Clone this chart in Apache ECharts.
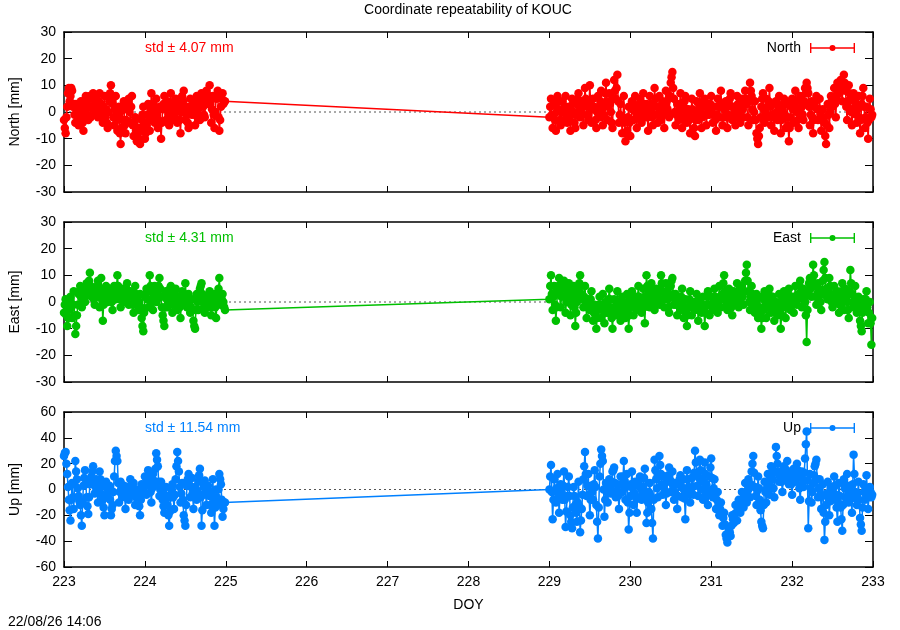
<!DOCTYPE html>
<html>
<head>
<meta charset="utf-8">
<title>Coordinate repeatability of KOUC</title>
<script src="https://cdn.jsdelivr.net/npm/echarts@6/dist/echarts.min.js"></script>
<style>
  html, body { margin: 0; padding: 0; background: #fff; }
  #chart { width: 900px; height: 630px; }
</style>
</head>
<body>
<div id="chart"></div>
<script>
// two observation sessions, one value every 0.01 day
const seg1Start = 223;
const seg2Start = 229;
const step = 0.01;

const northSeg1 = [
  -3, -6, -8, -2, 2, 7, 9, 4, 6, 9, 8, 2, 3, -1, -4, 3, 1, -2, -5, 1,
  -2, 4, 3, -4, -7, -1, 1, 6, 4, -1, -3, 2, 6, -2, 2, 5, 7, 1, -1, 3,
  5, 1, -2, 4, 7, -1, 3, 0, -4, 2, 6, -2, 1, -4, -6, 0, 4, 7, 10, 5,
  3, -2, -5, 1, 6, -3, -7, -1, 2, -8, -12, -6, -3, 1, 4, -5, -8, -3, 1, 3,
  5, 0, -4, 2, 6, -5, -9, -4, -2, -7, -11, -8, -6, -10, -12, -7, -3, -1, 2, -5,
  -10, -8, -5, -1, 3, -3, -7, 1, 7, 3, 0, -2, -4, 1, 5, -1, -6, -3, 2, -4,
  -10, -4, 1, 3, 6, 1, -3, 2, 4, -1, -5, 2, 7, 3, 0, -3, -2, 2, 5, 0,
  -4, 1, 3, -3, -8, 0, 6, 4, 8, 2, -3, -1, 2, -4, -6, 1, 5, 2, -1, 2,
  4, -1, -5, 2, 6, 3, 1, -2, -3, 4, 7, 5, 2, -1, -2, 4, 8, 5, 3, 6,
  10, 3, -4, 1, 6, -1, -6, 0, 5, 6, 8, -2, -7, -3, 2, 5, 7, 3, 4, 4
];
const northSeg2 = [
  -2, 2, 5, -1, -6, -2, 3, -3, -7, 0, 6, 4, 1, -3, -5, 0, 4, 1, -3, 2,
  6, 1, -4, -1, 2, -3, -7, -1, 5, 3, 0, -4, -6, -1, 3, 5, 7, 2, -2, 1,
  4, -1, -5, 3, 9, 5, 2, -1, -3, 4, 10, 3, -4, 1, 5, 2, 1, -3, -6, 0,
  6, 2, -2, 4, 8, 1, -5, -1, 3, 7, 11, 4, -3, 2, 7, 3, 0, -4, -6, 5,
  12, 8, 5, 9, 14, 4, -4, -1, 3, -3, -8, -2, 6, -4, -11, -8, -7, -2, 2, -4,
  -9, -3, 4, 1, -3, 2, 6, 0, -6, -2, 1, 3, 5, 0, -4, 2, 7, 3, -2, 1,
  3, -2, -7, 0, 6, 3, 0, -2, -5, 3, 9, 5, 2, -1, -4, 2, 6, 1, -3, 0,
  4, -1, -6, 2, 8, 4, 1, -1, -2, 6, 11, 13, 15, 9, 5, 0, -5, -1, 3, 0,
  -3, 3, 7, 1, -6, -2, 2, 4, 6, 1, -4, -1, 1, -3, -8, -2, 5, 1, -2, -6,
  -9, -3, 4, 0, -3, 3, 7, 1, -6, -2, 2, 4, 5, -1, -5, -1, 3, 1, -1, 3,
  6, 2, -4, -1, 2, -3, -7, -1, 5, 2, -2, 3, 8, 2, -5, -2, 1, 3, 4, -2,
  -6, -1, 3, 5, 7, 2, -3, -1, 2, -2, -5, 1, 6, 3, 0, -2, -4, 1, 5, 1,
  -2, 3, 8, 5, 3, -2, -5, 4, 11, 8, 6, 1, -3, 0, 4, -3, -8, -10, -12, -9,
  -6, -2, 2, 5, 7, 1, -4, 0, 5, 2, -2, 4, 9, 2, -5, -1, 3, -2, -7, -1,
  4, 0, -3, 2, 6, -1, -8, -3, 1, 3, 5, -1, -6, -2, 3, -5, -11, -6, -2, 2,
  5, 1, -4, 2, 8, 4, 0, -3, -6, 1, 6, 4, 2, -1, -3, 4, 9, 7, 11, 9,
  7, 2, -5, -1, 4, -2, -8, -3, 2, 4, 6, 1, -3, 1, 5, -1, -7, -3, 1, -2,
  -4, -9, -12, -5, 3, -1, -6, 0, 6, 4, 2, 5, 9, 3, -2, 5, 11, 9, 7, 10,
  12, 8, 4, 10, 14, 11, 8, 2, -3, 4, 10, 7, 5, 0, -5, 1, 7, 4, 2, -1,
  -4, 1, 6, -2, -8, -3, 3, 6, 9, 2, -6, -2, 2, -4, -10, -3, 5, 1, -2, -1
];

const eastSeg1 = [
  -4, -1, 1, -5, -9, -6, -3, 0, 2, -2, -6, -1, 4, -5, -12, -9, -5, -1, 3, 4,
  6, 2, -2, 1, 4, 2, 0, 4, 7, 5, 3, 8, 11, 6, 2, 4, 5, 1, -1, 2,
  4, 6, 8, 3, -2, 4, 9, 1, -7, -1, 3, 5, 6, 2, 0, 3, 5, 4, 2, 0,
  -3, 2, 6, 3, 1, 6, 10, 6, 4, 1, -2, 2, 5, 2, 0, 1, 3, 5, 7, 3,
  -1, 2, 4, 3, 2, -1, -4, 1, 6, 3, 1, -1, -3, 0, 3, -2, -6, -9, -11, -4,
  2, 3, 5, 1, -2, 4, 10, 6, 4, 0, -3, 2, 6, 3, 0, 1, 3, 6, 9, 5,
  2, -2, -5, -7, -9, -2, 4, 1, -2, 0, 3, 5, 6, 1, -4, -1, 1, 3, 5, 1,
  -3, -1, 2, -2, -6, -1, 4, 2, 0, 3, 7, 2, -2, 1, 3, -1, -4, -2, 1, -3,
  -7, -9, -10, -3, 3, 0, -3, 1, 5, 6, 7, 3, 0, -2, -4, -1, 2, 0, -2, 1,
  4, -1, -5, -2, 1, 2, 3, -2, -6, -1, 2, 5, 9, 3, -1, 1, 3, 0, -2, -3
];
const eastSeg2 = [
  1, 6, 10, 3, -3, 2, 6, -1, -7, -2, 4, 6, 9, 3, -2, 2, 5, 7, 8, 2,
  -4, 0, 3, 5, 7, 1, -5, -1, 2, 4, 6, -2, -9, -4, 0, 2, 4, 7, 10, 6,
  3, 1, -2, 2, 6, 0, -6, -2, 1, -1, -3, 1, 4, -2, -7, -4, -1, -5, -10, -6,
  -3, -1, 2, -2, -6, -1, 3, -3, -8, -4, 0, -2, -4, 1, 5, 1, -2, -6, -10, -4,
  1, -2, -5, -1, 4, 0, -3, -5, -7, -2, 2, 0, -1, -4, -6, -1, 3, -4, -10, -5,
  -2, 1, 4, -1, -5, -1, 2, -1, -3, 2, 6, 2, 0, -2, -4, 1, 5, -2, -8, 2,
  10, 6, 3, 0, -2, 3, 7, 4, 1, -1, -3, 1, 5, 3, 2, 0, -1, 5, 10, 7,
  4, 1, -2, 3, 7, 4, 1, -2, -4, 2, 6, 8, 9, 3, -1, 1, 3, -1, -5, -1,
  2, -1, -3, 2, 5, -1, -6, -2, 1, -4, -9, -5, -2, 1, 4, -1, -5, -2, 0, -2,
  -3, 0, 3, -2, -7, -3, 1, -1, -4, -1, 2, -3, -9, -4, -1, 2, 4, -1, -5, -1,
  2, -1, -3, 1, 5, 2, 0, -2, -4, 1, 6, 2, -2, 1, 3, 7, 10, 4, 1, -1,
  -3, 1, 5, 3, 2, -2, -5, 0, 4, 2, 0, 3, 7, 2, -2, 1, 3, 5, 6, 2,
  -1, 4, 8, 11, 14, 8, 4, 0, -3, 2, 6, 3, 1, -2, -4, 0, 3, -2, -6, -2,
  2, -4, -10, -6, -3, 1, 4, -1, -6, -2, 1, 3, 5, 0, -4, -1, 2, -3, -7, -3,
  0, -2, -5, -1, 3, -4, -10, -5, -2, 1, 4, -1, -6, -2, 1, 3, 5, 1, -3, 0,
  2, -1, -4, 2, 6, 2, -1, 1, 3, 6, 8, 3, -2, 2, 5, 2, 0, -5, -15, -3,
  4, 7, 9, 5, 2, 8, 14, 10, 6, 2, -1, 3, 7, 5, 3, 0, -3, 3, 8, 12,
  15, 9, 5, 2, 1, 5, 9, 6, 3, 0, -2, 2, 6, 3, 0, 2, 4, 0, -4, -1,
  2, 4, 7, 2, -3, 1, 5, 2, 0, -3, -6, 4, 12, 7, 3, 0, -2, 2, 6, 1,
  -4, -1, 2, -3, -7, -9, -11, -4, 1, -1, -3, 1, 4, -2, -8, -4, 0, -8, -16, -6
];

const upSeg1 = [
  26, 28, 29, 20, 12, 2, -8, -16, -24, -8, 5, -6, -15, 4, 22, 14, 8, 1, -5, -9,
  -12, -20, -28, -10, 3, 9, 15, 4, -6, -13, -19, -6, 4, 7, 10, 14, 18, 6, -3, 2,
  8, -2, -10, 3, 14, 8, 2, -4, -8, -14, -20, -6, 6, 1, -4, -1, 3, -8, -20, -15,
  -12, -2, 10, 22, 30, 26, 22, 5, -10, -2, 6, 1, -5, -1, 3, -6, -15, -5, 2, -3,
  -8, 0, 8, 2, -3, 1, 5, -4, -12, -6, 0, -3, -6, -13, -20, -8, 4, 1, -2, 4,
  10, 3, -4, 5, 15, 10, 6, -2, -10, 1, 12, 7, 3, 16, 28, 23, 18, 6, -5, 0,
  6, -1, -8, -13, -18, -8, 2, -5, -12, -20, -28, -17, -6, -1, 4, -6, -15, -4, 8, 18,
  29, 22, 14, 2, -10, -3, 5, -8, -20, -24, -28, -12, 3, 8, 12, 3, -6, 2, 9, -3,
  -15, -6, 2, -3, -8, -1, 6, 11, 16, -6, -28, -16, -4, 2, 7, -3, -12, -4, 3, -1,
  -5, -12, -18, -5, 8, -10, -28, -14, 0, -6, -12, 0, 12, 8, 4, -8, -21, -15, -10, -10
];
const upSeg2 = [
  0, 10, 19, -2, -23, -8, 8, -1, -10, 1, 12, -3, -18, -7, 4, -2, -8, 3, 14, -8,
  -29, -17, -5, 2, 10, -5, -20, -25, -30, -14, 2, -5, -12, -18, -25, -10, 6, -13, -33, -24,
  -15, -4, 8, 18, 29, 12, -5, 3, 12, -4, -20, -8, 3, -2, -8, 4, 15, 2, -12, -25,
  -38, -14, 10, 20, 31, 26, 22, 0, -21, -8, 5, -2, -10, -1, 8, 2, -3, 6, 14, 15,
  17, 5, -6, -1, 4, -5, -15, -3, 10, 4, -2, 10, 22, 7, -8, 2, 12, -10, -31, -18,
  -5, 4, 14, 1, -12, -3, 6, -6, -18, -7, 3, 7, 10, 1, -8, -3, 2, 9, 16, -5,
  -26, -18, -10, -2, 5, -5, -15, -26, -38, -8, 23, 15, 8, 1, -6, 10, 26, 19, 12, 4,
  -4, 3, 10, -1, -12, -3, 6, 11, 17, 7, -2, 6, 14, 3, -8, -2, 5, -5, -15, -5,
  4, 8, 11, 2, -6, 1, 8, -7, -23, -4, 15, 8, 2, -4, -10, -1, 9, 2, -4, 13,
  30, 21, 12, 3, -5, 9, 23, 15, 8, 0, -8, 6, 21, 12, 4, -4, -12, -1, 10, 17,
  24, 9, -6, 1, 8, -4, -15, -8, -2, -11, -20, -15, -10, -19, -28, -22, -18, -27, -35, -38,
  -41, -35, -30, -33, -36, -28, -20, -23, -26, -19, -12, -18, -24, -16, -8, -13, -18, -10, -2, -8,
  -14, -4, 5, -3, -10, -1, 8, 1, -6, 4, 14, 20, 26, 13, 2, -5, -12, -1, 10, 1,
  -8, -16, -25, -28, -30, -12, 6, -2, -10, 1, 12, 4, -4, 7, 18, 13, 8, 1, -6, 14,
  33, 26, 20, 13, 6, 10, 14, 6, -2, 8, 18, 13, 8, 15, 22, 13, 4, 8, 12, 4,
  -4, 6, 16, 11, 6, 13, 20, 15, 10, 1, -8, 3, 14, 8, 2, 13, 24, 35, 45, 7,
  -30, -9, 12, 1, -10, -2, 5, 11, 18, 20, 23, 8, -6, 1, 8, -4, -15, -5, 4, -18,
  -39, -25, -12, -3, 6, -7, -20, -9, 2, -3, -8, 1, 10, 3, -4, -14, -25, -10, 5, -5,
  -14, -23, -32, -12, 8, 1, -6, 3, 12, 1, -10, -3, 3, -7, -18, 4, 27, 12, -2, -7,
  -12, -3, 6, -8, -22, -27, -32, -14, 4, -2, -8, 1, 11, -2, -15, -6, 2, -2, -6, -4
];

const components = ['North', 'East', 'Up'];
const compColors = ['#ff0000', '#00c000', '#0080ff'];
const stdLabels = ['std \u00b1 4.07 mm', 'std \u00b1 4.31 mm', 'std \u00b1 11.54 mm'];
const yMin = [-30, -30, -60];
const yMax = [30, 30, 60];
const yStep = [10, 10, 20];
const dayMin = 223;
const dayMax = 233;

const FONT = '"Liberation Sans", Arial, sans-serif';

function toPoints(seg1, seg2) {
  let pts = [];
  seg1.forEach(function(v, i) { pts.push([+(seg1Start + i * step).toFixed(2), v]); });
  seg2.forEach(function(v, i) { pts.push([+(seg2Start + i * step).toFixed(2), v]); });
  return pts;
}

const panelData = [
  toPoints(northSeg1, northSeg2),
  toPoints(eastSeg1, eastSeg2),
  toPoints(upSeg1, upSeg2)
];

const grids = [
  { left: 64, top: 32, width: 809, height: 160 },
  { left: 64, top: 222, width: 809, height: 160 },
  { left: 64, top: 412, width: 809, height: 155 }
];

// error bar glyph for the legend: caps, bar and a dot (all same winding)
const errIcon = 'path://M0,0h1.4v10h-1.4z M0,4.2h45v1.6h-45z M43.6,0h1.4v10h-1.4z M19.5,5a3,3 0 1,1 6,0a3,3 0 1,1 -6,0z';

let xAxes = [], yAxes = [], series = [], legends = [], texts = [];

grids.forEach(function(g, k) {
  let last = k === grids.length - 1;
  let axisLine = { show: true, onZero: false, lineStyle: { color: '#000', width: 1.5 } };
  xAxes.push({
    type: 'value', gridIndex: k, min: dayMin, max: dayMax, interval: 1,
    axisLine: axisLine,
    axisTick: { inside: true, length: 6, lineStyle: { color: '#000' } },
    axisLabel: { show: last, color: '#000', fontSize: 14, fontFamily: FONT, margin: 8 },
    splitLine: { show: false },
    name: last ? 'DOY' : '', nameLocation: 'middle', nameGap: 31,
    nameTextStyle: { color: '#000', fontSize: 14, fontFamily: FONT }
  });
  xAxes.push({
    type: 'value', gridIndex: k, position: 'top', min: dayMin, max: dayMax, interval: 1,
    axisLine: axisLine,
    axisTick: { inside: true, length: 6, lineStyle: { color: '#000' } },
    axisLabel: { show: false },
    splitLine: { show: false }
  });
  yAxes.push({
    type: 'value', gridIndex: k, min: yMin[k], max: yMax[k], interval: yStep[k],
    axisLine: axisLine,
    axisTick: { inside: true, length: 8, lineStyle: { color: '#000' } },
    axisLabel: { color: '#000', fontSize: 14, fontFamily: FONT, margin: 8 },
    splitLine: { show: false },
    name: components[k] + ' [mm]', nameLocation: 'middle', nameGap: 42,
    nameTextStyle: { color: '#000', fontSize: 14, fontFamily: FONT }
  });
  yAxes.push({
    type: 'value', gridIndex: k, position: 'right', min: yMin[k], max: yMax[k], interval: yStep[k],
    axisLine: axisLine,
    axisTick: { inside: true, length: 8, lineStyle: { color: '#000' } },
    axisLabel: { show: false },
    splitLine: { show: false }
  });

  // dotted zero reference, behind the data
  series.push({
    type: 'line', xAxisIndex: 2 * k, yAxisIndex: 2 * k,
    data: [[dayMin, 0], [dayMax, 0]],
    symbol: 'none', silent: true, z: 1,
    lineStyle: { color: '#555', width: 1, type: [2, 3] }
  });
  series.push({
    name: components[k], type: 'line', xAxisIndex: 2 * k, yAxisIndex: 2 * k,
    data: panelData[k],
    symbol: 'circle', symbolSize: 8.5, showSymbol: true, z: 2,
    itemStyle: { color: compColors[k] },
    lineStyle: { color: compColors[k], width: 1.5 }
  });

  legends.push({
    data: [components[k]], right: 45, top: g.top + 9, align: 'right', padding: 0,
    icon: errIcon, itemWidth: 45, itemHeight: 10, itemGap: 0,
    itemStyle: { color: compColors[k], borderWidth: 0 },
    textStyle: { color: '#000', fontSize: 14, fontFamily: FONT, padding: [0, 4, 0, 0] },
    selectedMode: false
  });

  texts.push({
    type: 'text', x: 145, y: g.top + 16,
    style: { text: stdLabels[k], fill: compColors[k], font: '14px ' + FONT, align: 'left', verticalAlign: 'middle' }
  });
});

texts.push({
  type: 'text', x: 468, y: 10,
  style: { text: 'Coordinate repeatability of KOUC', fill: '#000', font: '14px ' + FONT, align: 'center', verticalAlign: 'middle' }
});
texts.push({
  type: 'text', x: 8, y: 622,
  style: { text: '22/08/26 14:06', fill: '#000', font: '14px ' + FONT, align: 'left', verticalAlign: 'middle' }
});

const chart = echarts.init(document.getElementById('chart'));
chart.setOption({
  animation: false,
  backgroundColor: '#fff',
  grid: grids,
  xAxis: xAxes,
  yAxis: yAxes,
  legend: legends,
  graphic: texts,
  series: series
});
</script>
</body>
</html>
